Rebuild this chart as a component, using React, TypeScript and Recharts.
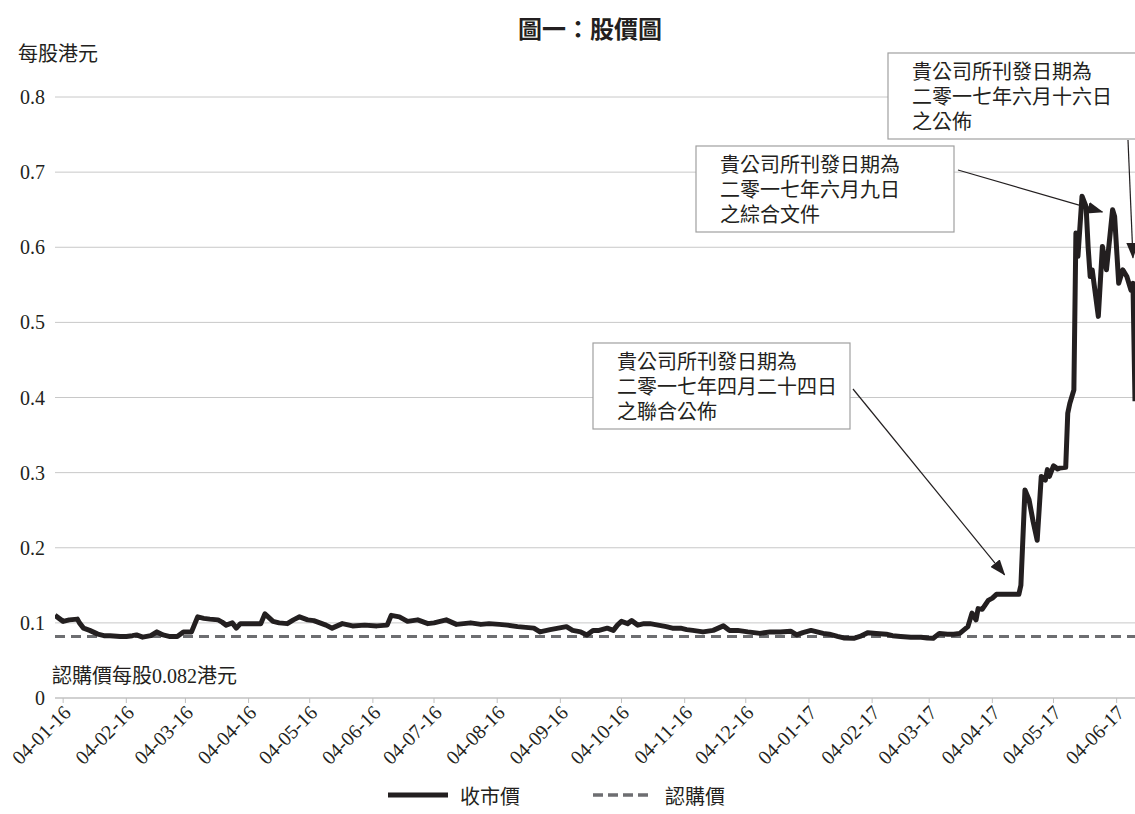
import { LineChart, Line, XAxis, YAxis, CartesianGrid, Legend } from 'recharts';

// closing price per share (HK$)
const closeDates = [
  '2015-12-31', '2016-01-02', '2016-01-04', '2016-01-07', '2016-01-11', '2016-01-12', '2016-01-14',
  '2016-01-17', '2016-01-21', '2016-01-24', '2016-01-27', '2016-02-01', '2016-02-04', '2016-02-07',
  '2016-02-09', '2016-02-12', '2016-02-16', '2016-02-19', '2016-02-22', '2016-02-25', '2016-02-29',
  '2016-03-03', '2016-03-07', '2016-03-10', '2016-03-13', '2016-03-16', '2016-03-20', '2016-03-22',
  '2016-03-24', '2016-03-27', '2016-03-29', '2016-03-31', '2016-04-05', '2016-04-10', '2016-04-12',
  '2016-04-16', '2016-04-19', '2016-04-23', '2016-04-26', '2016-04-29', '2016-05-03', '2016-05-06',
  '2016-05-09', '2016-05-12', '2016-05-15', '2016-05-20', '2016-05-25', '2016-05-31', '2016-06-06',
  '2016-06-11', '2016-06-13', '2016-06-17', '2016-06-21', '2016-06-26', '2016-07-01', '2016-07-04',
  '2016-07-07', '2016-07-10', '2016-07-15', '2016-07-22', '2016-07-27', '2016-07-31', '2016-08-05',
  '2016-08-09', '2016-08-14', '2016-08-18', '2016-08-22', '2016-08-25', '2016-08-30', '2016-09-03',
  '2016-09-07', '2016-09-10', '2016-09-14', '2016-09-17', '2016-09-20', '2016-09-23', '2016-09-27',
  '2016-09-30', '2016-10-02', '2016-10-04', '2016-10-07', '2016-10-09', '2016-10-12', '2016-10-15',
  '2016-10-18', '2016-10-22', '2016-10-26', '2016-10-29', '2016-11-02', '2016-11-05', '2016-11-08',
  '2016-11-13', '2016-11-18', '2016-11-23', '2016-11-26', '2016-11-30', '2016-12-05', '2016-12-08',
  '2016-12-11', '2016-12-16', '2016-12-21', '2016-12-26', '2016-12-29', '2017-01-01', '2017-01-05',
  '2017-01-08', '2017-01-11', '2017-01-14', '2017-01-18', '2017-01-21', '2017-01-26', '2017-01-29',
  '2017-02-02', '2017-02-06', '2017-02-11', '2017-02-14', '2017-02-18', '2017-02-23', '2017-02-28',
  '2017-03-03', '2017-03-06', '2017-03-09', '2017-03-13', '2017-03-16', '2017-03-19', '2017-03-23',
  '2017-03-25', '2017-03-27', '2017-03-28', '2017-03-30', '2017-03-31', '2017-04-02', '2017-04-04',
  '2017-04-06', '2017-04-10', '2017-04-14', '2017-04-17', '2017-04-18', '2017-04-20', '2017-04-22',
  '2017-04-24', '2017-04-26', '2017-04-28', '2017-04-30', '2017-05-01', '2017-05-02', '2017-05-04',
  '2017-05-06', '2017-05-07', '2017-05-10', '2017-05-11', '2017-05-12', '2017-05-14', '2017-05-15',
  '2017-05-16', '2017-05-18', '2017-05-20', '2017-05-21', '2017-05-22', '2017-05-23', '2017-05-26',
  '2017-05-28', '2017-05-30', '2017-06-02', '2017-06-03', '2017-06-05', '2017-06-07', '2017-06-09',
  '2017-06-11', '2017-06-12', '2017-06-13',
];

const closePrices = [
  0.110, 0.106, 0.102, 0.104, 0.105, 0.100, 0.093,
  0.090, 0.085, 0.083, 0.083, 0.082, 0.082, 0.083,
  0.084, 0.081, 0.083, 0.088, 0.084, 0.082, 0.082,
  0.088, 0.088, 0.108, 0.106, 0.105, 0.104, 0.101,
  0.097, 0.100, 0.093, 0.099, 0.099, 0.099, 0.112,
  0.102, 0.100, 0.099, 0.104, 0.108, 0.104, 0.103,
  0.100, 0.097, 0.093, 0.099, 0.096, 0.097, 0.096,
  0.097, 0.110, 0.108, 0.102, 0.104, 0.099, 0.100,
  0.102, 0.104, 0.098, 0.100, 0.098, 0.099, 0.098,
  0.097, 0.095, 0.094, 0.093, 0.088, 0.091, 0.093,
  0.095, 0.090, 0.088, 0.084, 0.090, 0.090, 0.093,
  0.090, 0.097, 0.102, 0.099, 0.103, 0.097, 0.099,
  0.099, 0.097, 0.095, 0.093, 0.093, 0.091, 0.090,
  0.088, 0.090, 0.096, 0.090, 0.090, 0.088, 0.087,
  0.086, 0.088, 0.088, 0.089, 0.084, 0.087, 0.090,
  0.088, 0.086, 0.085, 0.082, 0.080, 0.0795, 0.082,
  0.087, 0.086, 0.085, 0.083, 0.082, 0.081, 0.081,
  0.080, 0.0795, 0.086, 0.085, 0.085, 0.086, 0.095,
  0.113, 0.104, 0.119, 0.118, 0.122, 0.130, 0.133,
  0.138, 0.138, 0.138, 0.138, 0.150, 0.277, 0.264,
  0.235, 0.210, 0.295, 0.290, 0.304, 0.295, 0.309,
  0.305, 0.306, 0.307, 0.379, 0.392, 0.410, 0.619,
  0.588, 0.668, 0.654, 0.600, 0.561, 0.570, 0.508,
  0.601, 0.570, 0.650, 0.641, 0.552, 0.570, 0.561,
  0.543, 0.552, 0.395,
];

const SUBSCRIPTION_PRICE = 0.082;

const yTicks = [0, 0.1, 0.2, 0.3, 0.4, 0.5, 0.6, 0.7, 0.8];

const monthTicks = [
  '2016-01-04', '2016-02-04', '2016-03-04', '2016-04-04', '2016-05-04', '2016-06-04',
  '2016-07-04', '2016-08-04', '2016-09-04', '2016-10-04', '2016-11-04', '2016-12-04',
  '2017-01-04', '2017-02-04', '2017-03-04', '2017-04-04', '2017-05-04', '2017-06-04',
];

const annotations = [
  { lines: ['貴公司所刊發日期為', '二零一七年四月二十四日', '之聯合公佈'], box: [593, 343, 257, 86], from: [853, 389], tipDate: '2017-04-10', tipValue: 0.164 },
  { lines: ['貴公司所刊發日期為', '二零一七年六月九日', '之綜合文件'], box: [696, 146, 258, 86], from: [958, 170], tipDate: '2017-05-28', tipValue: 0.647 },
  { lines: ['貴公司所刊發日期為', '二零一七年六月十六日', '之公佈'], box: [888, 53, 270, 86], from: [1128, 140], tipDate: '2017-06-12', tipValue: 0.586 },
];

const SERIF = "'Liberation Serif', 'Noto Sans CJK TC', serif";
const INK = '#231f20';

const day = (s: string) => Date.parse(s + 'T00:00:00Z');

const data = closeDates.map((d, i) => ({
  t: day(d),
  close: closePrices[i],
  offer: SUBSCRIPTION_PRICE,
}));

const X_MIN = day('2015-12-31');
const X_MAX = day('2017-06-13');

const W = 1136;
const H = 814;
const PLOT = { left: 55, right: 1135, top: 97, bottom: 698 };

const px = (s: string) => PLOT.left + ((day(s) - X_MIN) / (X_MAX - X_MIN)) * (PLOT.right - PLOT.left);
const py = (v: number) => PLOT.bottom - (v / 0.8) * (PLOT.bottom - PLOT.top);

const fmtDate = (t: number) => {
  const d = new Date(t);
  const dd = String(d.getUTCDate()).padStart(2, '0');
  const mm = String(d.getUTCMonth() + 1).padStart(2, '0');
  const yy = String(d.getUTCFullYear()).slice(2);
  return `${dd}-${mm}-${yy}`;
};

function DateTick({ x, y, payload }: any) {
  const ax = x + 4;
  const ay = y + 4;
  return (
    <text x={ax} y={ay} dy="0.35em" transform={`rotate(-45 ${ax} ${ay})`} textAnchor="end"
      style={{ fontFamily: SERIF, fontSize: 20 }} fill={INK}>
      {fmtDate(payload.value)}
    </text>
  );
}

function LegendRow({ payload }: any) {
  const lefts = [388, 593];
  return (
    <div style={{ position: 'relative', width: W, height: 24, fontFamily: SERIF, fontSize: 20, color: INK }}>
      {(payload || []).map((p: any, i: number) => (
        <div key={p.value} style={{ position: 'absolute', left: lefts[i], top: 0, height: 24, display: 'flex', alignItems: 'center' }}>
          <svg width={60} height={8}>
            <line x1={0} y1={4} x2={60} y2={4} stroke={p.color}
              strokeWidth={i === 0 ? 5 : 3.5} strokeDasharray={i === 0 ? undefined : '10 5'} />
          </svg>
          <span style={{ marginLeft: 12 }}>{p.value}</span>
        </div>
      ))}
    </div>
  );
}

export default function App() {
  return (
    <div style={{ position: 'absolute', left: 0, top: 0, width: 1135, height: H, overflow: 'hidden', background: '#fff' }}>
      <LineChart width={W} height={H} data={data} margin={{ top: 97, right: 1, left: 0, bottom: 7 }}>
        <CartesianGrid vertical={false} stroke="#c8c8c8" />
        <XAxis
          dataKey="t"
          type="number"
          domain={[X_MIN, X_MAX]}
          allowDataOverflow
          ticks={monthTicks.map(day)}
          tick={<DateTick />}
          tickSize={5}
          height={85}
          interval={0}
          axisLine={{ stroke: '#bfbfbf' }}
          tickLine={{ stroke: '#bfbfbf' }}
        />
        <YAxis
          domain={[0, 0.8]}
          ticks={yTicks}
          width={55}
          axisLine={false}
          tickLine={false}
          tickMargin={4}
          tickFormatter={(v: number) => (v === 0 ? '0' : v.toFixed(1))}
          tick={{ fontFamily: SERIF, fontSize: 20, fill: INK }}
        />
        <Legend verticalAlign="bottom" height={24} content={<LegendRow />} wrapperStyle={{ left: 0, width: W }} />
        <Line dataKey="offer" name="認購價" stroke="#6d6e71" strokeWidth={3} strokeDasharray="10 6"
          dot={false} activeDot={false} isAnimationActive={false} />
        <Line dataKey="close" name="收市價" stroke={INK} strokeWidth={5} strokeLinejoin="round"
          dot={false} activeDot={false} isAnimationActive={false} />
      </LineChart>

      <svg width={1135} height={H} style={{ position: 'absolute', left: 0, top: 0, pointerEvents: 'none' }}>
        <defs>
          <marker id="arrowHead" markerWidth={16} markerHeight={12} refX={15} refY={6} orient="auto" markerUnits="userSpaceOnUse">
            <path d="M0,0 L16,6 L0,12 z" fill={INK} />
          </marker>
        </defs>
        <text x={590} y={38} textAnchor="middle" fontFamily="'Noto Sans CJK TC', sans-serif" fontWeight={700} fontSize={24} fill={INK}>
          圖一：股價圖
        </text>
        <text x={18} y={61} fontFamily={SERIF} fontSize={20} fill={INK}>每股港元</text>
        <text x={52} y={683} fontFamily={SERIF} fontSize={20} fill={INK}>認購價每股0.082港元</text>
        {annotations.map((a, i) => {
          const [bx, by, bw, bh] = a.box;
          return (
            <g key={i}>
              <rect x={bx} y={by} width={bw} height={bh} fill="#fff" stroke="#a0a0a0" strokeWidth={1.2} />
              {a.lines.map((line, j) => (
                <text key={j} x={bx + 24} y={by + 26 + j * 25} fontFamily={SERIF} fontSize={20} fill={INK}>{line}</text>
              ))}
              <line x1={a.from[0]} y1={a.from[1]} x2={px(a.tipDate)} y2={py(a.tipValue)}
                stroke={INK} strokeWidth={1.2} markerEnd="url(#arrowHead)" />
            </g>
          );
        })}
      </svg>
    </div>
  );
}
